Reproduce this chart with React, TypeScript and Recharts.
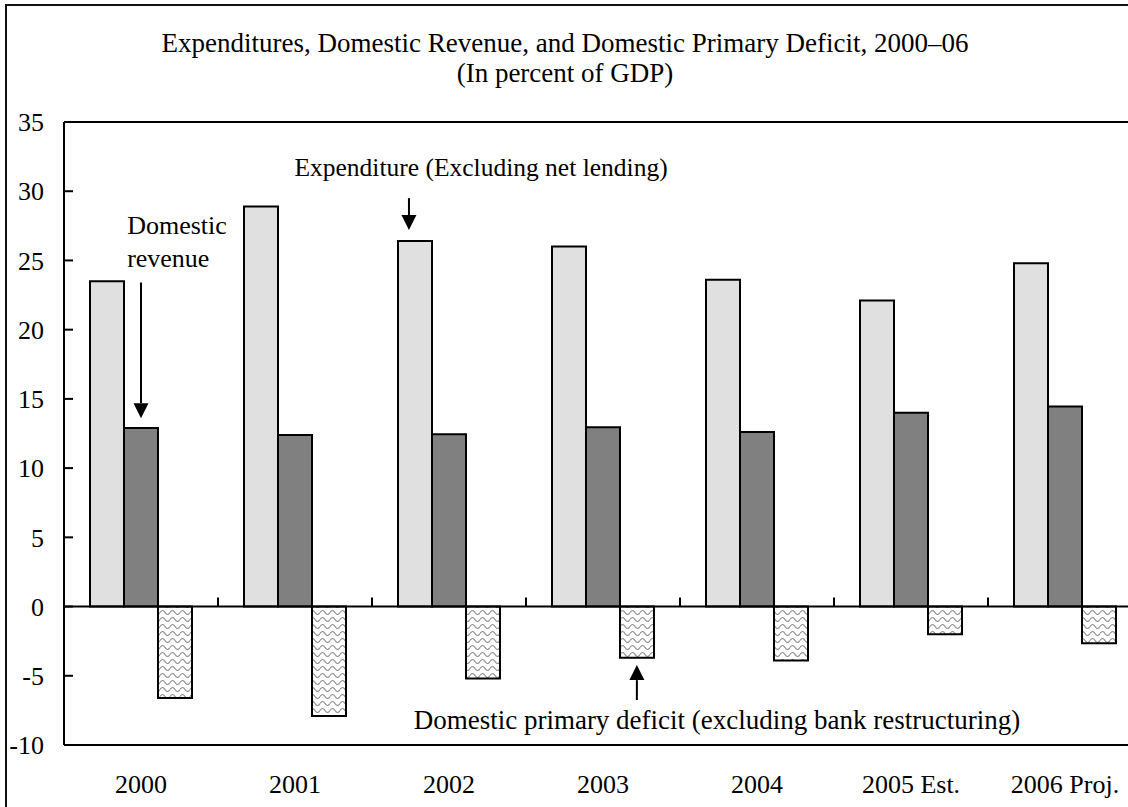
import React from 'react';
import { BarChart, Bar, XAxis, YAxis, ReferenceLine, ReferenceDot } from 'recharts';

const years = ['2000', '2001', '2002', '2003', '2004', '2005 Est.', '2006 Proj.'];
const expenditure = [23.5, 28.9, 26.4, 26.0, 23.6, 22.1, 24.8];
const revenue = [12.9, 12.4, 12.45, 12.95, 12.6, 14.0, 14.45];
const deficit = [-6.6, -7.9, -5.2, -3.7, -3.9, -2.0, -2.65];
const yTicks = [-10, -5, 0, 5, 10, 15, 20, 25, 30, 35];
const boundaries = [1, 2, 3, 4, 5, 6];

const data = years.map((year, i) => ({
  year,
  expenditure: expenditure[i],
  revenue: revenue[i],
  deficit: deficit[i],
}));

// hidden numeric axis spans 0..(n-1); convert "category units" (band i = [i, i+1]) to it
const NUM_MAX = years.length - 1;
const u = (v: number) => (v * NUM_MAX) / years.length;

const FONT = '"Liberation Serif", "Times New Roman", Times, serif';
const FS = 26;

const Arrow = (props: any) => {
  const { x1, y1, x2, y2 } = props;
  const dir = y2 > y1 ? 1 : -1;
  const head = 15;
  const half = 7.5;
  return (
    <g>
      <line x1={x1} y1={y1} x2={x2} y2={y2 - dir * head} stroke="#000" strokeWidth={2} />
      <polygon
        points={`${x2},${y2} ${x2 - half},${y2 - dir * head} ${x2 + half},${y2 - dir * head}`}
        fill="#000"
      />
    </g>
  );
};

const makeText = (text: string, anchor: 'start' | 'middle' | 'end', size: number) => (props: any) => (
  <text
    x={props.cx}
    y={props.cy}
    dy="0.33em"
    textAnchor={anchor}
    fontFamily={FONT}
    fontSize={size}
    fill="#000"
  >
    {text}
  </text>
);

export default function App() {
  return (
    <div
      style={{
        position: 'absolute',
        left: 0,
        top: 0,
        width: 1128,
        height: 807,
        overflow: 'hidden',
        background: '#fff',
        fontFamily: FONT,
      }}
    >
      <div
        style={{
          position: 'absolute',
          left: 5,
          top: 4,
          width: 2000,
          height: 2000,
          borderLeft: '2px solid #111',
          borderTop: '2px solid #111',
        }}
      />
      <div
        style={{
          position: 'absolute',
          left: 0,
          top: 28,
          width: 1130,
          textAlign: 'center',
          fontFamily: FONT,
          fontSize: 27,
          lineHeight: '30px',
          color: '#000',
        }}
      >
        <div>Expenditures, Domestic Revenue, and Domestic Primary Deficit, 2000–06</div>
        <div>(In percent of GDP)</div>
      </div>
      <div style={{ position: 'absolute', left: 0, top: 0 }}>
        <BarChart
          width={1142}
          height={807}
          data={data}
          margin={{ top: 122, right: 0, bottom: 0, left: 0 }}
          barGap={0}
          barSize={34}
          style={{ fontFamily: FONT }}
        >
          <defs>
            <pattern id="waves" patternUnits="userSpaceOnUse" width="10" height="7">
              <rect x="0" y="0" width="10" height="7" fill="#ffffff" />
              <path
                d="M0 3.5 Q2.5 -0.5 5 3.5 T10 3.5"
                stroke="#8c8c8c"
                strokeWidth="1.2"
                fill="none"
              />
            </pattern>
          </defs>
          <XAxis
            dataKey="year"
            height={62}
            axisLine={false}
            tickLine={false}
            tickSize={0}
            tickMargin={30}
            interval={0}
            tick={{ fill: '#000', fontSize: FS, fontFamily: FONT }}
          />
          <XAxis xAxisId="num" type="number" domain={[0, NUM_MAX]} hide allowDataOverflow />
          <YAxis
            width={64}
            domain={[-10, 35]}
            ticks={yTicks}
            interval={0}
            allowDataOverflow
            axisLine={{ stroke: '#000', strokeWidth: 2 }}
            tickLine={{ stroke: '#000', strokeWidth: 2 }}
            tickSize={-9}
            tickMargin={29}
            tick={{ fill: '#000', fontSize: FS, fontFamily: FONT }}
          />
          <Bar dataKey="expenditure" fill="#e0e0e0" stroke="#000" strokeWidth={2} isAnimationActive={false} />
          <Bar dataKey="revenue" fill="#808080" stroke="#000" strokeWidth={2} isAnimationActive={false} />
          <Bar dataKey="deficit" fill="url(#waves)" stroke="#000" strokeWidth={2} isAnimationActive={false} />
          <ReferenceLine y={0} stroke="#000" strokeWidth={2} />
          <ReferenceLine y={35} stroke="#000" strokeWidth={2} />
          <ReferenceLine y={-10} stroke="#000" strokeWidth={2} />
          {boundaries.map((b) => (
            <ReferenceLine
              key={b}
              xAxisId="num"
              segment={[{ x: u(b), y: 0 }, { x: u(b), y: 0.65 }]}
              stroke="#000"
              strokeWidth={2}
            />
          ))}
          <ReferenceLine
            xAxisId="num"
            segment={[{ x: u(0.5), y: 23.4 }, { x: u(0.5), y: 13.6 }]}
            shape={Arrow}
          />
          <ReferenceLine
            xAxisId="num"
            segment={[{ x: u(2.24), y: 29.5 }, { x: u(2.24), y: 27.2 }]}
            shape={Arrow}
          />
          <ReferenceLine
            xAxisId="num"
            segment={[{ x: u(3.72), y: -6.75 }, { x: u(3.72), y: -4.23 }]}
            shape={Arrow}
          />
          <ReferenceDot xAxisId="num" x={u(0.41)} y={27.56} r={0} shape={makeText('Domestic', 'start', 26)} />
          <ReferenceDot xAxisId="num" x={u(0.41)} y={25.18} r={0} shape={makeText('revenue', 'start', 26)} />
          <ReferenceDot
            xAxisId="num"
            x={u(2.708)}
            y={31.68}
            r={0}
            shape={makeText('Expenditure (Excluding net lending)', 'middle', 25.5)}
          />
          <ReferenceDot
            xAxisId="num"
            x={u(4.24)}
            y={-8.2}
            r={0}
            shape={makeText('Domestic primary deficit (excluding bank restructuring)', 'middle', 27)}
          />
        </BarChart>
      </div>
    </div>
  );
}
